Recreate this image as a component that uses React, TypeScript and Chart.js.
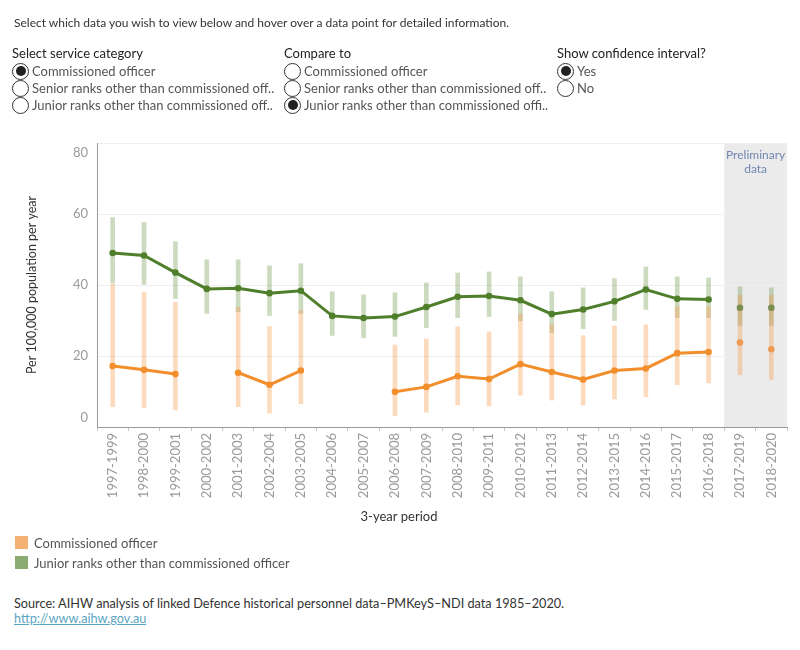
import React, { useEffect, useRef } from "react";
import { Chart, registerables } from "chart.js";

Chart.register(...registerables);

// 3-year reporting periods shown along the x axis
const periods = [
  "1997-1999", "1998-2000", "1999-2001", "2000-2002", "2001-2003", "2002-2004",
  "2003-2005", "2004-2006", "2005-2007", "2006-2008", "2007-2009", "2008-2010",
  "2009-2011", "2010-2012", "2011-2013", "2012-2014", "2013-2015", "2014-2016",
  "2015-2017", "2016-2018", "2017-2019", "2018-2020",
];

// Periods whose figures are preliminary
const preliminaryPeriods = ["2017-2019", "2018-2020"];

// Junior ranks other than commissioned officer: rate and 95% confidence interval
const juniorRate = [49.0, 48.3, 43.5, 38.9, 39.1, 37.7, 38.4, 31.3, 30.7, 31.1, 33.8, 36.7, 36.9, 35.7, 31.8, 33.1, 35.4, 38.7, 36.1, 35.9, 33.6, 33.6];
const juniorLow = [40.7, 40.2, 36.2, 32.0, 32.5, 31.4, 32.0, 25.8, 25.1, 25.5, 28.0, 30.8, 31.1, 29.9, 26.6, 27.7, 30.0, 33.1, 30.8, 30.8, 28.6, 28.6];
const juniorHigh = [59.0, 57.6, 52.2, 47.1, 47.1, 45.4, 46.0, 38.1, 37.2, 37.8, 40.6, 43.4, 43.7, 42.3, 38.1, 39.2, 41.8, 45.1, 42.3, 42.0, 39.5, 39.2];

// Commissioned officer: rate and 95% confidence interval (null = not published)
const officerRate = [17.2, 16.1, 14.9, null, 15.3, 11.9, 15.9, null, null, 9.9, 11.3, 14.3, 13.5, 17.7, 15.5, 13.4, 15.9, 16.5, 20.8, 21.1, 23.8, 21.9];
const officerLow = [5.7, 5.4, 4.8, null, 5.7, 3.9, 6.5, null, null, 3.2, 4.2, 6.2, 5.9, 9.0, 7.6, 6.2, 7.9, 8.5, 11.9, 12.4, 14.7, 13.3];
const officerHigh = [40.4, 37.9, 35.1, null, 33.7, 28.3, 32.7, null, null, 23.1, 24.8, 28.2, 26.8, 31.9, 28.8, 25.7, 28.5, 28.8, 33.9, 33.9, 37.1, 37.1];

// Y axis ticks
const yTicks = [0, 20, 40, 60, 80];

const FONT = "Lato, 'Open Sans', sans-serif";
const GREEN = "#4f7f2b";
const GREEN_PRELIM = "#7b8d4d";
const GREEN_CI = "rgba(89,138,53,0.31)";
const ORANGE = "#f28e2b";
const ORANGE_PRELIM = "#ee9a50";
const ORANGE_CI = "rgba(247,150,70,0.35)";

type Val = number | null;

function RadioRow({ x, y, label, checked }: { x: number; y: number; label: string; checked?: boolean }) {
  return (
    <div style={{ position: "absolute", left: x, top: y - 9, height: 18, display: "flex", alignItems: "center" }}>
      <div
        style={{
          width: 15,
          height: 15,
          borderRadius: "50%",
          border: "1px solid #333",
          background: "#fff",
          display: "flex",
          alignItems: "center",
          justifyContent: "center",
          boxSizing: "content-box",
        }}
      >
        {checked ? <div style={{ width: 10, height: 10, borderRadius: "50%", background: "#222" }} /> : null}
      </div>
      <span style={{ marginLeft: 3, fontSize: 13, color: "#555", whiteSpace: "nowrap" }}>{label}</span>
    </div>
  );
}

export default function App() {
  const canvasRef = useRef<HTMLCanvasElement>(null);

  useEffect(() => {
    document.body.style.margin = "0";
    const canvas = canvasRef.current;
    if (!canvas) return;

    const isPrelim = periods.map((p) => preliminaryPeriods.includes(p));
    const pick = (arr: Val[], prelim: boolean) => arr.map((v, i) => (isPrelim[i] === prelim ? v : null));
    const interval = (lo: Val[], hi: Val[]) =>
      lo.map((l, i) => (l == null || hi[i] == null ? null : [l, hi[i] as number]));

    // Grey band behind the preliminary periods
    const prelimShade = {
      id: "prelimShade",
      beforeDraw(chart: any) {
        const { ctx, chartArea, scales } = chart;
        const x = scales.x;
        const first = isPrelim.indexOf(true);
        if (first < 0) return;
        const half = (x.getPixelForValue(1) - x.getPixelForValue(0)) / 2;
        const left = x.getPixelForValue(first) - half;
        ctx.save();
        ctx.fillStyle = "#ebebeb";
        ctx.fillRect(left, chartArea.top, chartArea.right - left, chartArea.bottom - chartArea.top);
        ctx.fillStyle = "#7186b0";
        ctx.font = `12px ${FONT}`;
        ctx.textAlign = "center";
        ctx.textBaseline = "middle";
        const cx = (left + chartArea.right) / 2;
        ctx.fillText("Preliminary", cx, chartArea.top + 12);
        ctx.fillText("data", cx, chartArea.top + 26);
        ctx.restore();
      },
    };

    // Y tick labels (kept inside the plot height) and axis titles
    const axisText = {
      id: "axisText",
      afterDraw(chart: any) {
        const { ctx, chartArea, scales } = chart;
        const y = scales.y;
        ctx.save();
        ctx.font = `13px ${FONT}`;
        ctx.fillStyle = "#9a9a9a";
        ctx.textAlign = "right";
        ctx.textBaseline = "middle";
        yTicks.forEach((t) => {
          let py = y.getPixelForValue(t);
          py = Math.min(Math.max(py, chartArea.top + 9.5), chartArea.bottom - 9);
          ctx.fillText(String(t), chartArea.left - 9, py);
        });
        ctx.fillStyle = "#333";
        ctx.font = `12.5px ${FONT}`;
        ctx.textAlign = "center";
        ctx.save();
        ctx.translate(32, (chartArea.top + chartArea.bottom) / 2);
        ctx.rotate(-Math.PI / 2);
        ctx.fillText("Per 100,000 population per year", 0, 0);
        ctx.restore();
        ctx.font = `13px ${FONT}`;
        ctx.fillText("3-year period", 399, 517);
        ctx.restore();
      },
    };

    const chart = new Chart(canvas, {
      type: "bar",
      data: {
        labels: periods,
        datasets: [
          {
            type: "line",
            label: "Commissioned officer",
            data: pick(officerRate, false),
            borderColor: ORANGE,
            backgroundColor: ORANGE,
            borderWidth: 3,
            pointRadius: 3.3,
            pointBorderWidth: 0,
            spanGaps: false,
            order: 0,
          },
          {
            type: "line",
            label: "Junior ranks other than commissioned officer",
            data: pick(juniorRate, false),
            borderColor: GREEN,
            backgroundColor: GREEN,
            borderWidth: 3,
            pointRadius: 3.3,
            pointBorderWidth: 0,
            spanGaps: false,
            order: 1,
          },
          {
            type: "line",
            label: "Commissioned officer (preliminary)",
            data: pick(officerRate, true),
            borderColor: ORANGE_PRELIM,
            backgroundColor: ORANGE_PRELIM,
            showLine: false,
            pointRadius: 3.3,
            pointBorderWidth: 0,
            order: 2,
          },
          {
            type: "line",
            label: "Junior ranks (preliminary)",
            data: pick(juniorRate, true),
            borderColor: GREEN_PRELIM,
            backgroundColor: GREEN_PRELIM,
            showLine: false,
            pointRadius: 3.3,
            pointBorderWidth: 0,
            order: 3,
          },
          {
            type: "bar",
            label: "Commissioned officer CI",
            data: interval(officerLow, officerHigh) as any,
            backgroundColor: ORANGE_CI,
            borderWidth: 0,
            barThickness: 4,
            grouped: false,
            order: 4,
          },
          {
            type: "bar",
            label: "Junior ranks CI",
            data: interval(juniorLow, juniorHigh) as any,
            backgroundColor: GREEN_CI,
            borderWidth: 0,
            barThickness: 4,
            grouped: false,
            order: 5,
          },
        ],
      },
      options: {
        responsive: false,
        animation: false,
        devicePixelRatio: 1,
        layout: { padding: { top: 143, right: 13, left: 0, bottom: 0 } },
        plugins: { legend: { display: false }, tooltip: { enabled: false } },
        scales: {
          x: {
            type: "category",
            offset: true,
            grid: { display: true, drawOnChartArea: false, offset: true, tickLength: 4, color: "#c4c4c4" },
            border: { display: true, color: "#999", width: 1 },
            ticks: {
              font: { family: FONT, size: 13 },
              color: "#9a9a9a",
              minRotation: 90,
              maxRotation: 90,
              padding: 2,
              autoSkip: false,
            },
            afterFit(scale: any) {
              scale.height = 113;
            },
          },
          y: {
            min: 0,
            max: 80,
            ticks: { stepSize: 20, display: false },
            grid: { color: "#efefef", drawTicks: false },
            border: { display: true, color: "#999", width: 1 },
            afterFit(scale: any) {
              scale.width = 97;
            },
          },
        },
      },
      plugins: [prelimShade, axisText],
    } as any);

    return () => chart.destroy();
  }, []);

  const text = { position: "absolute" as const, whiteSpace: "nowrap" as const };

  return (
    <div style={{ position: "relative", width: 800, height: 650, fontFamily: FONT, overflow: "hidden" }}>
      <canvas ref={canvasRef} width={800} height={540} style={{ position: "absolute", left: 0, top: 0 }} />

      <div style={{ ...text, left: 14, top: 15, fontSize: 12, color: "#333" }}>
        Select which data you wish to view below and hover over a data point for detailed information.
      </div>

      <div style={{ ...text, left: 12, top: 45, fontSize: 13, color: "#222" }}>Select service category</div>
      <div style={{ ...text, left: 284, top: 45, fontSize: 13, color: "#222" }}>Compare to</div>
      <div style={{ ...text, left: 557, top: 45, fontSize: 13, color: "#222" }}>Show confidence interval?</div>

      <RadioRow x={12} y={71} label="Commissioned officer" checked />
      <RadioRow x={12} y={88} label="Senior ranks other than commissioned off.." />
      <RadioRow x={12} y={105} label="Junior ranks other than commissioned off.." />

      <RadioRow x={284} y={71} label="Commissioned officer" />
      <RadioRow x={284} y={88} label="Senior ranks other than commissioned off.." />
      <RadioRow x={284} y={105} label="Junior ranks other than commissioned offi.." checked />

      <RadioRow x={557} y={71} label="Yes" checked />
      <RadioRow x={557} y={88} label="No" />

      <div style={{ position: "absolute", left: 15, top: 536, width: 13, height: 13, background: "#f5b173" }} />
      <div style={{ ...text, left: 34, top: 535, fontSize: 13, color: "#555" }}>Commissioned officer</div>
      <div style={{ position: "absolute", left: 15, top: 556, width: 13, height: 13, background: "#8aac72" }} />
      <div style={{ ...text, left: 34, top: 555, fontSize: 13, color: "#555" }}>
        Junior ranks other than commissioned officer
      </div>

      <div style={{ ...text, left: 14, top: 595, fontSize: 12.7, color: "#333" }}>
        Source: AIHW analysis of linked Defence historical personnel data–PMKeyS–NDI data 1985–2020.
      </div>
      <div style={{ ...text, left: 14, top: 610, fontSize: 12.7, color: "#5aa5c2", textDecoration: "underline" }}>
        http://www.aihw.gov.au
      </div>
    </div>
  );
}
